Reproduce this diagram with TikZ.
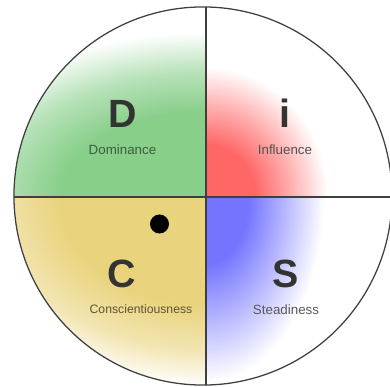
\documentclass[tikz,border=0pt]{standalone}
\usepackage{fontspec}
\setmainfont{Liberation Sans}
\usepackage{xcolor}
\usetikzlibrary{positioning}
\definecolor{domgreen}{HTML}{88CF8A}
\definecolor{infred}{HTML}{FF6666}
\definecolor{stblue}{HTML}{7474FF}
\definecolor{conyellow}{HTML}{E9D37C}
\definecolor{inkgray}{HTML}{333333}
\definecolor{rimgray}{HTML}{3F3F3F}

\pgfdeclareradialshading{glowd}{\pgfpoint{0bp}{0bp}}{color(0bp)=(domgreen); color(13bp)=(domgreen); color(19bp)=(domgreen!60); color(25bp)=(white); color(50bp)=(white)}
\pgfdeclareradialshading{glowi}{\pgfpoint{0bp}{0bp}}{color(0bp)=(infred); color(10bp)=(infred); color(17bp)=(infred!55); color(25bp)=(white); color(50bp)=(white)}
\pgfdeclareradialshading{glows}{\pgfpoint{0bp}{0bp}}{color(0bp)=(stblue); color(9bp)=(stblue); color(17bp)=(stblue!50); color(25bp)=(white); color(50bp)=(white)}
\pgfdeclareradialshading{glowc}{\pgfpoint{0bp}{0bp}}{color(0bp)=(conyellow); color(14bp)=(conyellow); color(20bp)=(conyellow!60); color(25bp)=(white); color(50bp)=(white)}

\begin{document}
\begin{tikzpicture}[x=0.025cm,y=-0.025cm,
		letter/.style={font=\fontsize{28}{28}\selectfont\bfseries,text=inkgray,inner sep=0pt,anchor=base},
		lbl/.style={font=\fontsize{9.5}{11}\selectfont,inner sep=0pt},
		rim/.style={draw=rimgray,line width=0.9pt}
		]
		\useasboundingbox (0,0) rectangle (390,387);
		\coordinate (o) at (206,197);
		\coordinate (m) at (203,196);
		\begin{scope}
			\clip (m) circle [radius=4.725cm];
			% quadrant glows
			\begin{scope}
				\clip (0,0) rectangle (o);
				\shade[shading=glowd] (-74,32) rectangle (486,362);
			\end{scope}
			\begin{scope}
				\clip (o) rectangle (400,0);
				\shade[shading=glowi] (84,67) rectangle (328,327);
			\end{scope}
			\begin{scope}
				\clip (o) rectangle (0,400);
				\shade[shading=glowc] (-54,7) rectangle (466,387);
			\end{scope}
			\begin{scope}
				\clip (o) rectangle (400,400);
				\shade[shading=glows] (88,12) rectangle (324,382);
			\end{scope}
			\coordinate (top) at (206,0);
			\coordinate (bot) at (206,400);
			\coordinate (lft) at (0,197);
			\coordinate (rgt) at (400,197);
			\draw[rim,line width=1pt] (top) -- (bot);
			\draw[rim,line width=1pt] (lft) -- (rgt);
		\end{scope}
		\draw[rim] (m) circle [radius=4.725cm];

		\node[letter] (d) at (122.5,128) {D};
		\node[lbl,text=domgreen!45!black,below=0.4cm of d] (dl) {Dominance};
		\node[letter] (i) at (285,128) {i};
		\node[lbl,text=black!68,below=0.4cm of i] (il) {Influence};
		\node[letter] (c) at (122,288) {C};
		\node[lbl,text=conyellow!40!black,font=\fontsize{8.7}{11}\selectfont,below=0.4cm of c,xshift=0.475cm] (cl) {Conscientiousness};
		\node[letter] (s) at (286,288) {S};
		\node[lbl,text=black!65,below=0.4cm of s] (sl) {Steadiness};
		\node[circle,fill=black,inner sep=0pt,minimum size=0.475cm] (pt) at (159.5,224) {};
	\end{tikzpicture}
\end{document}
